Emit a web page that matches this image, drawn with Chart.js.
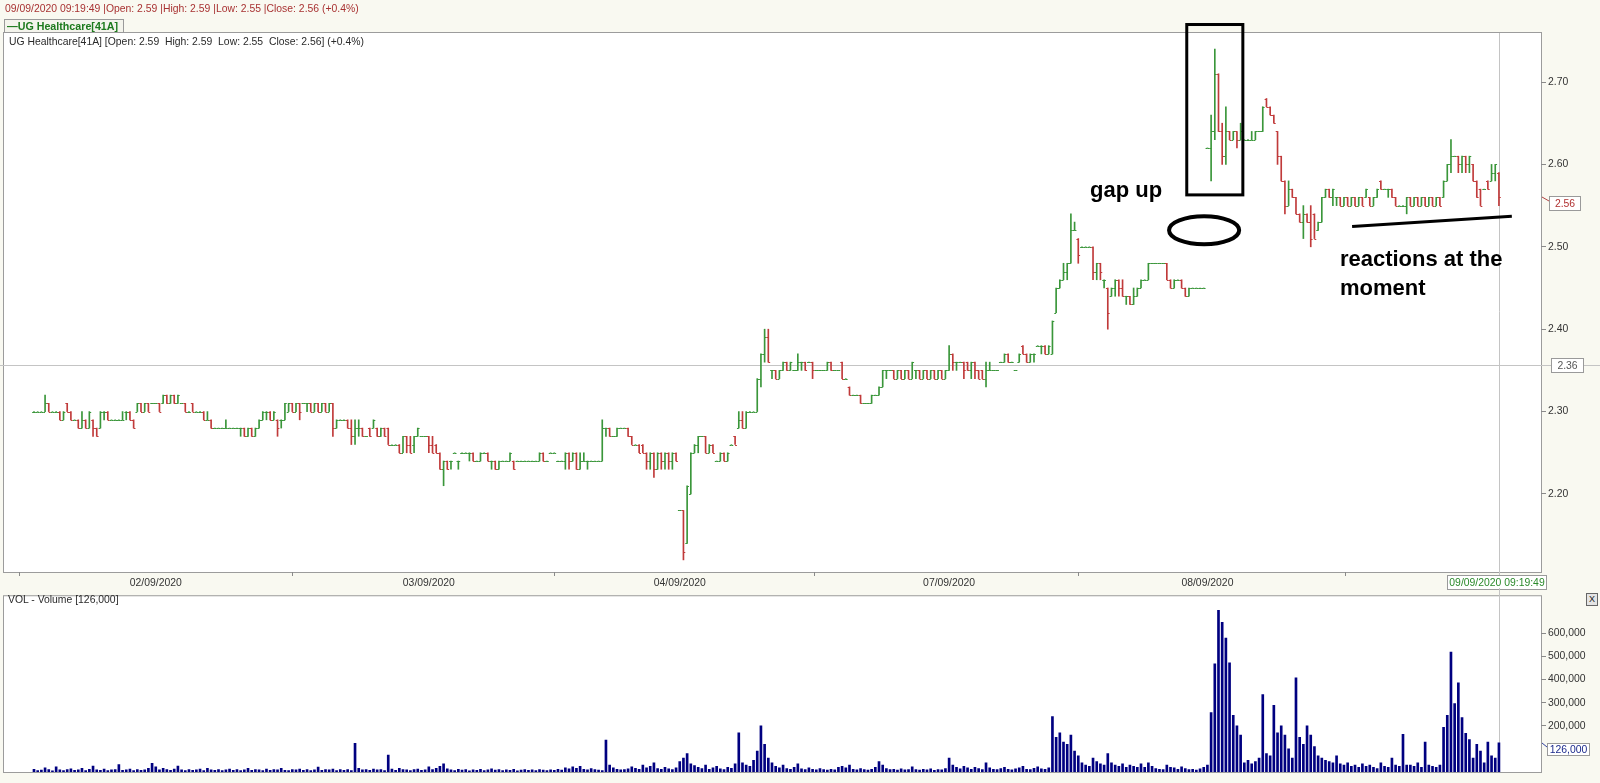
<!DOCTYPE html>
<html><head><meta charset="utf-8">
<script src="https://cdn.jsdelivr.net/npm/chart.js@4.4.1/dist/chart.umd.min.js"></script>
<style>
html,body{margin:0;padding:0}
body{width:1600px;height:783px;background:#f9f9f1;position:relative;overflow:hidden;font-family:"Liberation Sans",Arial,sans-serif}
canvas{position:absolute;left:0}
#price{top:0}
#vol{top:588px}
.t{position:absolute;white-space:pre;font-size:10.4px;line-height:12px}
#hdr{left:5px;top:3px;color:#a83232}
#leg{left:4px;top:19px;width:116px;height:12px;border:1px solid #9a9a9a;background:#f4f4ec;color:#1d7a1d;font-weight:bold;font-size:10.7px;line-height:12px;padding-left:2px}
#inner{left:9px;top:36px;color:#2a2a2a}
#volt{left:8px;top:594px;color:#2a2a2a}
#xbtn{left:1586px;top:593px;width:10px;height:11px;border:1px solid #666;background:#e4e4e4;font-size:9px;line-height:11px;text-align:center;color:#222}
</style></head><body>
<canvas id="price" width="1600" height="590"></canvas>
<canvas id="vol" width="1600" height="195"></canvas>
<div class="t" id="hdr">09/09/2020 09:19:49 |Open: 2.59 |High: 2.59 |Low: 2.55 |Close: 2.56 (+0.4%)</div>
<div class="t" id="leg">—UG Healthcare[41A]</div>
<div class="t" id="inner">UG Healthcare[41A] [Open: 2.59  High: 2.59  Low: 2.55  Close: 2.56] (+0.4%)</div>
<div class="t" id="volt">VOL - Volume [126,000]</div>
<div class="t" id="xbtn">X</div>
<script>
// ---------- data (5-minute bars, 01/09/2020 pm .. 09/09/2020 09:19) ----------
const opens = [
2.30,2.30,2.30,2.30,2.31,2.30,2.30,2.30,2.29,2.31,
2.30,2.29,2.29,2.28,2.29,2.28,2.29,2.28,2.28,2.30,
2.30,2.29,2.29,2.29,2.29,2.30,2.30,2.29,2.30,2.31,
2.30,2.31,2.31,2.31,2.31,2.31,2.32,2.31,2.32,2.31,
2.31,2.31,2.30,2.31,2.30,2.30,2.30,2.29,2.29,2.28,
2.28,2.28,2.28,2.28,2.28,2.28,2.28,2.28,2.27,2.28,
2.27,2.28,2.29,2.30,2.30,2.29,2.29,2.29,2.29,2.30,
2.31,2.30,2.31,2.31,2.31,2.31,2.30,2.31,2.30,2.31,
2.30,2.31,2.28,2.29,2.29,2.29,2.28,2.27,2.28,2.28,
2.27,2.28,2.28,2.28,2.27,2.28,2.28,2.26,2.26,2.26,
2.25,2.27,2.26,2.26,2.27,2.27,2.27,2.27,2.26,2.26,
2.25,2.23,2.24,2.24,2.25,2.24,2.25,2.25,2.25,2.25,
2.24,2.24,2.25,2.25,2.24,2.24,2.23,2.24,2.24,2.24,
2.24,2.24,2.24,2.24,2.24,2.24,2.24,2.24,2.25,2.24,
2.25,2.25,2.24,2.24,2.24,2.25,2.24,2.25,2.23,2.24,
2.24,2.24,2.24,2.24,2.24,2.28,2.28,2.27,2.27,2.28,
2.28,2.28,2.27,2.26,2.26,2.26,2.25,2.24,2.25,2.23,
2.25,2.24,2.25,2.24,2.25,2.18,2.18,2.14,2.20,2.25,
2.26,2.27,2.27,2.25,2.26,2.24,2.24,2.25,2.24,2.26,
2.27,2.28,2.29,2.28,2.30,2.30,2.30,2.34,2.37,2.39,
2.35,2.35,2.34,2.35,2.36,2.35,2.35,2.35,2.36,2.36,
2.36,2.36,2.35,2.35,2.35,2.35,2.36,2.35,2.35,2.36,
2.34,2.33,2.32,2.32,2.32,2.31,2.31,2.31,2.32,2.32,
2.33,2.35,2.35,2.35,2.34,2.35,2.34,2.35,2.34,2.35,
2.35,2.34,2.35,2.34,2.35,2.34,2.35,2.34,2.35,2.37,
2.36,2.36,2.36,2.36,2.35,2.36,2.35,2.35,2.34,2.35,
2.35,2.35,2.36,2.36,2.37,2.36,2.35,2.36,2.38,2.37,
2.36,2.37,2.38,2.38,2.38,2.37,2.37,2.42,2.45,2.46,
2.47,2.48,2.52,2.51,2.50,2.50,2.50,2.50,2.47,2.48,
2.46,2.45,2.44,2.45,2.46,2.45,2.44,2.44,2.43,2.44,
2.45,2.46,2.46,2.48,2.48,2.48,2.48,2.48,2.46,2.45,
2.46,2.46,2.45,2.44,2.45,2.45,2.45,2.45,2.62,2.62,
2.64,2.71,2.64,2.61,2.64,2.63,2.64,2.63,2.63,2.63,
2.63,2.63,2.64,2.64,2.68,2.67,2.66,2.64,2.61,2.58,
2.55,2.57,2.56,2.54,2.53,2.54,2.53,2.54,2.52,2.53,
2.56,2.57,2.56,2.56,2.56,2.55,2.56,2.55,2.56,2.55,
2.56,2.56,2.56,2.55,2.56,2.58,2.57,2.57,2.57,2.56,
2.55,2.55,2.55,2.56,2.55,2.56,2.55,2.56,2.55,2.56,
2.55,2.56,2.56,2.58,2.60,2.61,2.61,2.60,2.61,2.60,
2.60,2.58,2.57,2.57,2.58,2.58,2.59,2.59];
const highs = [
2.30,2.30,2.30,2.32,2.31,2.30,2.30,2.30,2.30,2.31,
2.30,2.29,2.29,2.30,2.29,2.30,2.29,2.28,2.30,2.30,
2.30,2.29,2.29,2.29,2.30,2.30,2.30,2.29,2.31,2.31,
2.31,2.31,2.31,2.31,2.31,2.32,2.32,2.32,2.32,2.32,
2.31,2.31,2.30,2.31,2.30,2.30,2.30,2.30,2.29,2.28,
2.28,2.28,2.29,2.28,2.28,2.28,2.28,2.28,2.28,2.28,
2.28,2.29,2.30,2.30,2.30,2.30,2.29,2.29,2.31,2.31,
2.31,2.31,2.31,2.31,2.31,2.31,2.31,2.31,2.31,2.31,
2.31,2.31,2.29,2.29,2.29,2.29,2.29,2.29,2.29,2.28,
2.27,2.28,2.29,2.28,2.28,2.28,2.28,2.26,2.26,2.26,
2.27,2.27,2.27,2.27,2.28,2.27,2.27,2.27,2.27,2.26,
2.25,2.24,2.24,2.24,2.25,2.24,2.25,2.25,2.25,2.25,
2.24,2.25,2.25,2.25,2.24,2.24,2.24,2.24,2.24,2.25,
2.24,2.24,2.24,2.24,2.24,2.24,2.24,2.25,2.25,2.24,
2.25,2.25,2.24,2.24,2.25,2.25,2.25,2.25,2.25,2.25,
2.24,2.24,2.24,2.24,2.29,2.28,2.28,2.27,2.28,2.28,
2.28,2.28,2.27,2.26,2.26,2.26,2.25,2.25,2.25,2.25,
2.25,2.25,2.25,2.25,2.25,2.18,2.18,2.21,2.25,2.26,
2.27,2.27,2.27,2.26,2.26,2.24,2.25,2.25,2.25,2.26,
2.27,2.30,2.30,2.30,2.30,2.30,2.34,2.37,2.40,2.40,
2.35,2.35,2.35,2.36,2.36,2.36,2.35,2.37,2.36,2.36,
2.36,2.36,2.35,2.35,2.35,2.36,2.36,2.35,2.35,2.36,
2.34,2.33,2.32,2.32,2.32,2.31,2.31,2.32,2.32,2.33,
2.35,2.35,2.35,2.35,2.35,2.35,2.35,2.35,2.36,2.35,
2.35,2.35,2.35,2.35,2.35,2.35,2.35,2.35,2.38,2.37,
2.36,2.36,2.36,2.36,2.36,2.36,2.35,2.35,2.36,2.36,
2.35,2.35,2.36,2.37,2.37,2.36,2.35,2.37,2.38,2.37,
2.37,2.37,2.38,2.38,2.38,2.38,2.41,2.45,2.46,2.48,
2.48,2.54,2.53,2.51,2.50,2.50,2.50,2.50,2.48,2.48,
2.46,2.45,2.45,2.46,2.46,2.46,2.44,2.44,2.45,2.45,
2.46,2.46,2.48,2.48,2.48,2.48,2.48,2.48,2.46,2.46,
2.46,2.46,2.45,2.45,2.45,2.45,2.45,2.45,2.62,2.66,
2.74,2.71,2.65,2.67,2.64,2.64,2.64,2.65,2.63,2.63,
2.64,2.64,2.64,2.67,2.68,2.67,2.66,2.64,2.61,2.58,
2.58,2.57,2.56,2.54,2.55,2.54,2.55,2.54,2.53,2.56,
2.57,2.57,2.57,2.56,2.56,2.56,2.56,2.56,2.56,2.56,
2.56,2.57,2.56,2.56,2.57,2.58,2.57,2.57,2.57,2.56,
2.55,2.55,2.56,2.56,2.56,2.56,2.56,2.56,2.56,2.56,
2.56,2.56,2.58,2.60,2.63,2.61,2.61,2.61,2.61,2.61,
2.60,2.58,2.57,2.57,2.58,2.60,2.60,2.59];
const lows = [
2.30,2.30,2.30,2.30,2.30,2.30,2.30,2.29,2.29,2.30,
2.29,2.29,2.28,2.28,2.28,2.28,2.27,2.27,2.28,2.29,
2.29,2.29,2.29,2.29,2.29,2.29,2.29,2.28,2.30,2.30,
2.30,2.30,2.31,2.31,2.30,2.31,2.31,2.31,2.31,2.31,
2.31,2.30,2.30,2.30,2.30,2.30,2.29,2.29,2.28,2.28,
2.28,2.28,2.28,2.28,2.28,2.28,2.27,2.27,2.27,2.27,
2.27,2.28,2.29,2.29,2.29,2.29,2.27,2.28,2.29,2.30,
2.30,2.30,2.29,2.31,2.30,2.30,2.30,2.30,2.30,2.30,
2.30,2.27,2.28,2.29,2.29,2.28,2.26,2.26,2.27,2.27,
2.27,2.27,2.28,2.27,2.27,2.27,2.26,2.26,2.26,2.25,
2.25,2.25,2.25,2.25,2.27,2.27,2.27,2.25,2.25,2.25,
2.23,2.21,2.23,2.23,2.25,2.23,2.25,2.25,2.24,2.24,
2.24,2.24,2.25,2.24,2.23,2.23,2.23,2.24,2.24,2.24,
2.23,2.24,2.24,2.24,2.24,2.24,2.24,2.24,2.24,2.24,
2.25,2.25,2.24,2.24,2.23,2.23,2.24,2.23,2.23,2.24,
2.23,2.24,2.24,2.24,2.24,2.27,2.27,2.27,2.27,2.28,
2.28,2.27,2.26,2.26,2.25,2.25,2.23,2.23,2.22,2.23,
2.23,2.23,2.23,2.23,2.24,2.18,2.12,2.14,2.20,2.25,
2.25,2.27,2.25,2.25,2.25,2.24,2.24,2.24,2.24,2.26,
2.26,2.28,2.28,2.28,2.30,2.30,2.30,2.33,2.36,2.36,
2.34,2.34,2.34,2.35,2.35,2.35,2.35,2.35,2.35,2.35,
2.36,2.34,2.35,2.35,2.35,2.35,2.35,2.35,2.35,2.34,
2.34,2.32,2.32,2.32,2.31,2.31,2.31,2.31,2.32,2.32,
2.33,2.34,2.35,2.34,2.34,2.34,2.34,2.34,2.34,2.34,
2.34,2.34,2.34,2.34,2.34,2.34,2.34,2.34,2.35,2.35,
2.35,2.36,2.34,2.35,2.34,2.34,2.34,2.34,2.33,2.35,
2.35,2.35,2.36,2.36,2.36,2.36,2.35,2.36,2.37,2.36,
2.36,2.36,2.38,2.37,2.37,2.37,2.37,2.42,2.45,2.46,
2.46,2.48,2.52,2.48,2.50,2.50,2.50,2.46,2.46,2.46,
2.45,2.40,2.44,2.44,2.44,2.44,2.43,2.43,2.43,2.44,
2.45,2.46,2.46,2.48,2.48,2.48,2.48,2.46,2.45,2.45,
2.46,2.45,2.44,2.44,2.45,2.45,2.45,2.45,2.62,2.58,
2.63,2.64,2.60,2.60,2.63,2.63,2.62,2.63,2.63,2.63,
2.63,2.63,2.64,2.64,2.67,2.66,2.65,2.60,2.58,2.54,
2.55,2.56,2.54,2.53,2.51,2.53,2.50,2.51,2.52,2.53,
2.56,2.56,2.55,2.55,2.55,2.55,2.55,2.55,2.55,2.55,
2.55,2.56,2.55,2.55,2.56,2.57,2.57,2.56,2.56,2.55,
2.55,2.55,2.54,2.55,2.55,2.55,2.55,2.55,2.55,2.55,
2.55,2.55,2.56,2.58,2.59,2.61,2.59,2.59,2.59,2.59,
2.58,2.56,2.55,2.57,2.57,2.58,2.58,2.55];
const closes = [
2.30,2.30,2.30,2.31,2.30,2.30,2.30,2.29,2.30,2.30,
2.29,2.29,2.28,2.29,2.28,2.30,2.28,2.27,2.30,2.30,
2.29,2.29,2.29,2.29,2.29,2.30,2.29,2.28,2.31,2.30,
2.31,2.30,2.31,2.31,2.30,2.32,2.31,2.32,2.31,2.32,
2.31,2.30,2.30,2.30,2.30,2.30,2.29,2.29,2.28,2.28,
2.28,2.28,2.28,2.28,2.28,2.28,2.28,2.27,2.28,2.27,
2.28,2.29,2.30,2.30,2.29,2.30,2.28,2.29,2.31,2.31,
2.30,2.31,2.30,2.31,2.31,2.30,2.31,2.30,2.31,2.30,
2.31,2.28,2.29,2.29,2.29,2.28,2.27,2.28,2.28,2.27,
2.27,2.27,2.29,2.27,2.28,2.27,2.26,2.26,2.26,2.25,
2.27,2.26,2.25,2.27,2.28,2.27,2.27,2.26,2.25,2.25,
2.23,2.24,2.23,2.24,2.25,2.24,2.25,2.25,2.25,2.24,
2.24,2.25,2.25,2.24,2.24,2.23,2.24,2.24,2.24,2.25,
2.23,2.24,2.24,2.24,2.24,2.24,2.24,2.25,2.24,2.24,
2.25,2.25,2.24,2.24,2.25,2.24,2.25,2.23,2.24,2.24,
2.24,2.24,2.24,2.24,2.28,2.28,2.27,2.27,2.28,2.28,
2.28,2.27,2.26,2.26,2.25,2.25,2.24,2.25,2.23,2.25,
2.24,2.25,2.24,2.25,2.24,2.18,2.13,2.21,2.25,2.26,
2.27,2.27,2.25,2.26,2.25,2.24,2.25,2.24,2.25,2.26,
2.26,2.29,2.28,2.30,2.30,2.30,2.34,2.37,2.39,2.36,
2.35,2.34,2.35,2.36,2.35,2.36,2.35,2.36,2.36,2.35,
2.36,2.35,2.35,2.35,2.35,2.36,2.35,2.35,2.35,2.34,
2.34,2.32,2.32,2.32,2.31,2.31,2.31,2.32,2.32,2.33,
2.35,2.35,2.35,2.34,2.35,2.34,2.35,2.34,2.36,2.35,
2.34,2.35,2.34,2.35,2.34,2.35,2.34,2.35,2.37,2.36,
2.36,2.36,2.35,2.35,2.36,2.35,2.34,2.34,2.35,2.35,
2.35,2.35,2.36,2.37,2.36,2.36,2.35,2.37,2.37,2.36,
2.37,2.37,2.38,2.38,2.37,2.38,2.41,2.45,2.46,2.47,
2.48,2.52,2.52,2.49,2.50,2.50,2.50,2.47,2.48,2.47,
2.46,2.42,2.45,2.46,2.45,2.44,2.44,2.43,2.44,2.45,
2.46,2.46,2.48,2.48,2.48,2.48,2.48,2.46,2.45,2.46,
2.46,2.45,2.44,2.45,2.45,2.45,2.45,2.45,2.62,2.64,
2.71,2.64,2.61,2.64,2.63,2.64,2.63,2.64,2.63,2.63,
2.63,2.64,2.64,2.67,2.67,2.66,2.65,2.61,2.58,2.55,
2.57,2.56,2.54,2.53,2.54,2.53,2.51,2.51,2.53,2.56,
2.57,2.56,2.57,2.56,2.55,2.56,2.55,2.56,2.55,2.56,
2.55,2.57,2.55,2.56,2.57,2.57,2.57,2.57,2.56,2.55,
2.55,2.55,2.56,2.55,2.56,2.55,2.56,2.55,2.56,2.55,
2.56,2.55,2.58,2.60,2.61,2.61,2.60,2.61,2.60,2.61,
2.58,2.56,2.55,2.57,2.57,2.59,2.60,2.56];
const volumes = [
12000,6000,8000,18000,10000,5000,22000,9000,6000,11000,14000,7000,9000,16000,6000,12000,26000,9000,7000,13000,
6000,9000,11000,32000,7000,9000,13000,6000,11000,7000,9000,16000,38000,22000,9000,16000,11000,7000,13000,26000,
9000,6000,11000,7000,9000,13000,6000,16000,9000,7000,11000,6000,9000,13000,7000,11000,6000,9000,16000,7000,
11000,9000,6000,13000,7000,11000,9000,16000,7000,6000,11000,9000,13000,7000,11000,6000,9000,21000,7000,11000,
9000,13000,6000,11000,7000,11000,6000,124000,16000,9000,11000,7000,13000,9000,11000,6000,73000,13000,7000,16000,
11000,9000,6000,11000,13000,7000,9000,22000,11000,16000,25000,35000,14000,9000,6000,12000,8000,10000,5000,9000,
7000,12000,6000,9000,14000,8000,10000,6000,9000,7000,12000,5000,8000,10000,7000,9000,6000,11000,8000,6000,
9000,7000,12000,8000,18000,14000,22000,16000,25000,12000,9000,15000,10000,8000,6000,138000,30000,18000,12000,9000,
11000,14000,22000,16000,12000,30000,18000,25000,40000,15000,12000,20000,14000,10000,18000,45000,60000,80000,35000,28000,
20000,15000,30000,12000,18000,25000,14000,10000,20000,16000,35000,170000,40000,30000,25000,50000,90000,200000,120000,60000,
40000,25000,18000,30000,15000,12000,20000,35000,14000,10000,18000,12000,9000,15000,10000,8000,12000,9000,20000,25000,
18000,30000,12000,9000,15000,10000,8000,12000,20000,45000,30000,15000,10000,12000,8000,14000,9000,11000,22000,10000,
8000,12000,9000,14000,7000,11000,9000,15000,60000,30000,20000,14000,25000,18000,12000,20000,15000,10000,40000,18000,
12000,10000,15000,20000,12000,9000,14000,18000,25000,12000,10000,16000,22000,14000,12000,18000,240000,150000,170000,130000,
120000,160000,90000,70000,40000,30000,25000,60000,45000,35000,30000,80000,40000,30000,25000,35000,20000,30000,25000,20000,
35000,20000,40000,25000,15000,12000,10000,30000,20000,18000,12000,22000,15000,10000,12000,8000,14000,20000,30000,257000,
468000,700000,648000,580000,472000,245000,200000,160000,40000,50000,35000,45000,60000,335000,80000,70000,288000,170000,200000,160000,
100000,60000,408000,150000,120000,200000,160000,110000,70000,60000,50000,45000,40000,70000,35000,30000,40000,25000,30000,20000,
35000,25000,30000,20000,15000,40000,25000,20000,60000,30000,25000,163000,30000,30000,25000,40000,20000,129000,30000,25000,
20000,30000,193000,245000,519000,296000,386000,236000,167000,140000,60000,120000,90000,40000,130000,70000,60000,126000];

const dayStarts = [33, 107, 175, 248, 318, 393];
const dayLabels = ['02/09/2020','03/09/2020','04/09/2020','07/09/2020','08/09/2020','09/09/2020'];
const priceTicks = [2.20, 2.30, 2.40, 2.50, 2.60, 2.70];
const volTicks = [200000, 300000, 400000, 500000, 600000];
const lastTime = '09/09/2020 09:19:49';
const lastClose = 2.56, lastVolume = 126000, crossPrice = 2.357;

// user drawings on the chart, in data units (bar index / price)
const rectNote = {x0: 312.4, x1: 327.6, y0: 2.7698, y1: 2.563};
const ellipseNote = {x0: 307.6, x1: 326.6, y0: 2.537, y1: 2.503};
const lineNote = {x0: 357.2, y0: 2.5246, x1: 400.5, y1: 2.537};
const textNotes = [
  {text: 'gap up', x: 286.2, y: 2.568},
  {text: 'reactions at the', x: 353.9, y: 2.4837},
  {text: 'moment', x: 353.9, y: 2.449}
];

// ---------- rendering ----------
const FONT = '"Liberation Sans", Arial, sans-serif';
const UP = '#3a963a', DOWN = '#c03a3a';
const X_MIN = -8.13, X_MAX = 408.4;
const P_MIN = 2.1053, P_MAX = 2.7595;
const V_MAX = 760500;
const N = Math.min(opens.length, highs.length, lows.length, closes.length);
const lastIdx = N - 1;

function valueBox(ctx, x, y, w, h, text, color) {
  ctx.save();
  ctx.fillStyle = '#fff'; ctx.fillRect(x, y, w, h);
  ctx.strokeStyle = '#9a9a9a'; ctx.lineWidth = 1; ctx.strokeRect(x + 0.5, y + 0.5, w - 1, h - 1);
  ctx.fillStyle = color; ctx.font = '10.4px ' + FONT;
  ctx.textAlign = 'center'; ctx.textBaseline = 'middle';
  ctx.fillText(text, x + w / 2, y + h / 2 + 0.5);
  ctx.restore();
}

const panelPlugin = {
  id: 'panel',
  beforeDraw(c) {
    const {ctx, chartArea: a} = c;
    ctx.save();
    ctx.fillStyle = '#fff';
    ctx.fillRect(a.left, a.top, a.right - a.left, a.bottom - a.top);
    ctx.strokeStyle = '#9c9c9c'; ctx.lineWidth = 1;
    ctx.strokeRect(a.left - 0.5, a.top - 0.5, a.right - a.left + 1, a.bottom - a.top + 1);
    ctx.restore();
  },
  beforeDatasetsDraw(c) {
    const {ctx, chartArea: a, scales} = c;
    ctx.save();
    ctx.strokeStyle = '#c4c4c4'; ctx.lineWidth = 1;
    const vx = Math.round(scales.x.getPixelForValue(lastIdx)) + 0.5;
    ctx.beginPath();
    if (c.canvas.id === 'price') {
      ctx.moveTo(vx, a.top); ctx.lineTo(vx, c.height);
      const hy = Math.round(scales.y.getPixelForValue(crossPrice)) + 0.5;
      ctx.moveTo(0, hy); ctx.lineTo(c.width, hy);
    } else {
      ctx.moveTo(vx, 0); ctx.lineTo(vx, a.bottom);
    }
    ctx.stroke();
    ctx.restore();
  }
};

const ohlcTicks = {
  id: 'ohlcTicks',
  afterDatasetsDraw(c) {
    const {ctx, scales: {x, y}} = c;
    const half = (x.getPixelForValue(1) - x.getPixelForValue(0)) / 2;
    ctx.save(); ctx.lineWidth = 1;
    for (let i = 0; i < N; i++) {
      const px = x.getPixelForValue(i);
      ctx.strokeStyle = closes[i] >= opens[i] ? UP : DOWN;
      const yo = Math.round(y.getPixelForValue(opens[i])) + 0.5;
      const yc = Math.round(y.getPixelForValue(closes[i])) + 0.5;
      ctx.beginPath();
      ctx.moveTo(px - half, yo); ctx.lineTo(px, yo);
      ctx.moveTo(px, yc); ctx.lineTo(px + half, yc);
      ctx.stroke();
    }
    ctx.restore();
  }
};

const priceOverlay = {
  id: 'priceOverlay',
  afterDraw(c) {
    const {ctx, chartArea: a, scales: {x, y}} = c;
    ctx.save();
    const ly = Math.round(y.getPixelForValue(lastClose));
    ctx.strokeStyle = '#b04040'; ctx.lineWidth = 1;
    ctx.beginPath(); ctx.moveTo(a.right + 1, ly); ctx.lineTo(a.right + 8, ly + 4); ctx.stroke();
    valueBox(ctx, a.right + 8, ly - 1, 32, 15, lastClose.toFixed(2), '#b03030');
    const cy = Math.round(y.getPixelForValue(crossPrice));
    valueBox(ctx, a.right + 10, cy - 7, 33, 15, crossPrice.toFixed(2), '#555');
    const vx = x.getPixelForValue(lastIdx);
    valueBox(ctx, Math.round(vx - 52), a.bottom + 3, 100, 15, lastTime, '#2a8a2a');
    ctx.strokeStyle = '#000';
    ctx.lineWidth = 3;
    const rx0 = x.getPixelForValue(rectNote.x0), rx1 = x.getPixelForValue(rectNote.x1);
    const ry0 = y.getPixelForValue(rectNote.y0), ry1 = y.getPixelForValue(rectNote.y1);
    ctx.strokeRect(rx0, ry0, rx1 - rx0, ry1 - ry0);
    ctx.lineWidth = 4;
    const ex0 = x.getPixelForValue(ellipseNote.x0), ex1 = x.getPixelForValue(ellipseNote.x1);
    const ey0 = y.getPixelForValue(ellipseNote.y0), ey1 = y.getPixelForValue(ellipseNote.y1);
    ctx.beginPath();
    ctx.ellipse((ex0 + ex1) / 2, (ey0 + ey1) / 2, (ex1 - ex0) / 2, (ey1 - ey0) / 2, 0, 0, Math.PI * 2);
    ctx.stroke();
    ctx.lineWidth = 3;
    ctx.beginPath();
    ctx.moveTo(x.getPixelForValue(lineNote.x0), y.getPixelForValue(lineNote.y0));
    ctx.lineTo(x.getPixelForValue(lineNote.x1), y.getPixelForValue(lineNote.y1));
    ctx.stroke();
    ctx.fillStyle = '#000';
    ctx.font = 'bold 22px ' + FONT;
    ctx.textAlign = 'left'; ctx.textBaseline = 'middle';
    textNotes.forEach(n => ctx.fillText(n.text, x.getPixelForValue(n.x), y.getPixelForValue(n.y)));
    ctx.restore();
  }
};

const volOverlay = {
  id: 'volOverlay',
  afterDraw(c) {
    const {ctx, chartArea: a, scales: {y}} = c;
    const vy = Math.round(y.getPixelForValue(lastVolume));
    ctx.save();
    ctx.strokeStyle = '#3040a0'; ctx.lineWidth = 1;
    ctx.beginPath(); ctx.moveTo(a.right + 1, vy); ctx.lineTo(a.right + 6, vy + 4); ctx.stroke();
    ctx.restore();
    valueBox(ctx, a.right + 6, vy, 43, 13, lastVolume.toLocaleString('en-US'), '#1c2a8c');
  }
};

const axisFont = {family: FONT, size: 10.4};

new Chart(document.getElementById('price'), {
  type: 'bar',
  data: {
    datasets: [{
      data: closes.slice(0, N).map((c, i) => ({x: i, y: [lows[i], highs[i]]})),
      backgroundColor: closes.slice(0, N).map((c, i) => c >= opens[i] ? UP : DOWN),
      barThickness: 1, borderWidth: 0, grouped: false
    }]
  },
  options: {
    animation: false, responsive: false, maintainAspectRatio: false,
    layout: {padding: {left: 4, top: 33, right: 0, bottom: 0}},
    plugins: {legend: {display: false}, tooltip: {enabled: false}},
    scales: {
      x: {
        type: 'linear', min: X_MIN, max: X_MAX, offset: false,
        grid: {display: true, drawOnChartArea: false, drawTicks: true, tickLength: 4, color: '#8a8a8a'},
        border: {display: false},
        ticks: {font: axisFont, color: '#333', padding: 1, maxRotation: 0, autoSkip: false,
          callback: v => { const k = dayStarts.indexOf(v); return k >= 0 ? dayLabels[k] : ''; }},
        afterBuildTicks: s => { s.ticks = dayStarts.map(v => ({value: v})); },
        afterFit: s => { s.height = 18; }
      },
      y: {
        type: 'linear', position: 'right', min: P_MIN, max: P_MAX,
        grid: {display: true, drawOnChartArea: false, tickLength: 5, color: '#8a8a8a'},
        border: {display: false},
        ticks: {font: axisFont, color: '#333', padding: 2, callback: v => Number(v).toFixed(2)},
        afterBuildTicks: s => { s.ticks = priceTicks.map(v => ({value: v})); },
        afterFit: s => { s.width = 59; }
      }
    }
  },
  plugins: [panelPlugin, ohlcTicks, priceOverlay]
});

new Chart(document.getElementById('vol'), {
  type: 'bar',
  data: {
    datasets: [{
      data: volumes.map((v, i) => ({x: i, y: v})),
      backgroundColor: '#000080', barThickness: 2, borderWidth: 0
    }]
  },
  options: {
    animation: false, responsive: false, maintainAspectRatio: false,
    layout: {padding: {left: 4, top: 3, right: 0, bottom: 11}},
    plugins: {legend: {display: false}, tooltip: {enabled: false}},
    scales: {
      x: {type: 'linear', min: X_MIN, max: X_MAX, offset: false, display: false},
      y: {
        type: 'linear', position: 'right', min: 0, max: V_MAX,
        grid: {display: true, drawOnChartArea: false, tickLength: 5, color: '#8a8a8a'},
        border: {display: false},
        ticks: {font: axisFont, color: '#333', padding: 2, callback: v => Number(v).toLocaleString('en-US')},
        afterBuildTicks: s => { s.ticks = volTicks.map(v => ({value: v})); },
        afterFit: s => { s.width = 59; }
      }
    }
  },
  plugins: [panelPlugin, volOverlay]
});
</script>
</body></html>
